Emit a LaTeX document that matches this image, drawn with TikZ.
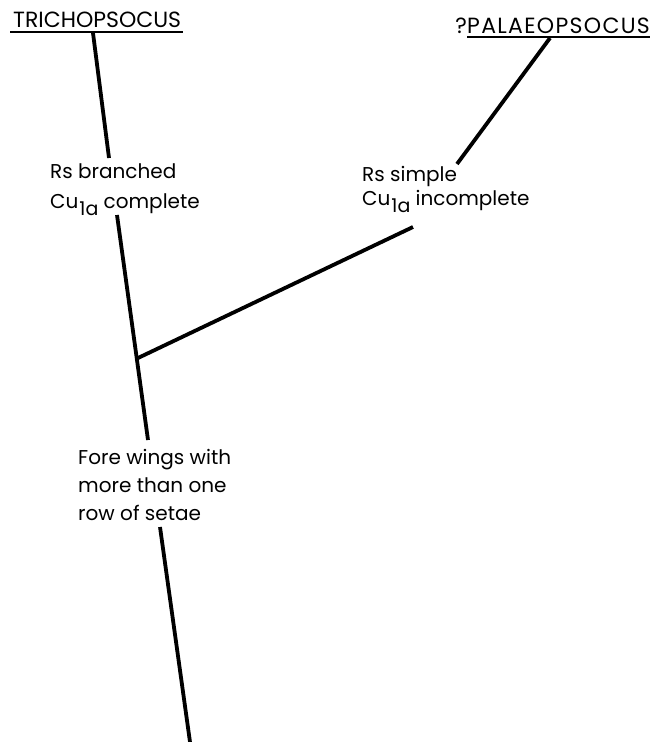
\documentclass[tikz,border=0pt]{standalone}
\usepackage{fontspec}
\setmainfont{Poppins}
\usetikzlibrary{positioning}
\newcommand{\cusub}{Cu\hspace{1pt}\raisebox{-7pt}{\fontsize{19}{19}\selectfont 1a}}

\begin{document}
\begin{tikzpicture}[x=1pt, y=-1pt,
  taxon/.style={anchor=base west, inner sep=0pt, font=\fontsize{22}{22}\selectfont},
  trait/.style={anchor=base west, inner sep=0pt, align=left, font=\fontsize{20}{30}\selectfont},
  branch/.style={line width=3.8pt, line cap=butt},
  uline/.style={line width=2.6pt}
]
  \useasboundingbox (0,0) rectangle (654,742);

  % taxa at the tips
  \node[taxon] (tricho) at (13,27) {TRICHOPSOCUS};
  \node[taxon, anchor=base east] (qmark) at (467,33) {?};
  \node[taxon] (palaeo) at (467,33) {\addfontfeature{LetterSpace=6}PALAEOPSOCUS};
  \draw[uline] (10,32) -- (183,32);
  \draw[uline] (467,37) -- (650,37);

  % character states (anchored on the last line)
  \node[trait] (rsbranched) at (50,208) {Rs branched\\\cusub{} complete};
  \node[trait, font=\fontsize{20}{24}\selectfont] (rssimple) at (362,205) {Rs simple\\\cusub{} incomplete};
  \node[trait, font=\fontsize{20}{28}\selectfont] (forewings) at (78,520) {Fore wings with\\more than one\\row of setae};

  % branch ends
  \coordinate (tricho-foot) at (93,33);
  \coordinate (rsb-top) at (109,158);
  \coordinate (rsb-foot) at (117,215);
  \coordinate (fore-top) at (148,440);
  \coordinate (fork) at (138,358);
  \coordinate (rss-foot) at (413,227);
  \coordinate (palaeo-foot) at (550,38);
  \coordinate (rss-top) at (457,164);
  \coordinate (fore-foot) at (160,527);
  \coordinate (root) at (190,742);

  \draw[branch] (tricho-foot) -- (rsb-top);
  \draw[branch] (rsb-foot) -- (fore-top);
  \draw[branch] (rss-foot) -- (fork);
  \draw[branch] (palaeo-foot) -- (rss-top);
  \draw[branch] (fore-foot) -- (root);
\end{tikzpicture}
\end{document}
